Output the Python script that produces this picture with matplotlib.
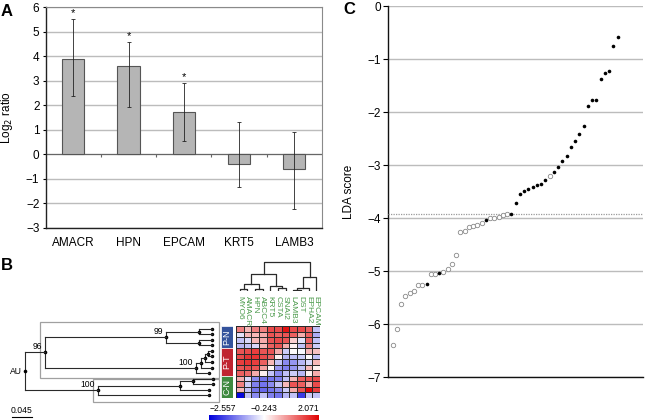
import matplotlib
matplotlib.use("Agg")
import matplotlib.pyplot as plt
import numpy as np
from matplotlib.colors import LinearSegmentedColormap, Normalize
from matplotlib.patches import Rectangle

plt.rcParams['font.family'] = ['Liberation Sans', 'DejaVu Sans']

# ---- panel A data
genes = ["AMACR", "HPN", "EPCAM", "KRT5", "LAMB3"]
log2_ratio = [3.9, 3.62, 1.72, -0.38, -0.6]
err_low = [2.38, 1.93, 0.55, -1.35, -2.25]
err_high = [5.52, 4.6, 2.9, 1.3, 0.92]
significant = [True, True, True, False, False]

# ---- panel B data
col_genes = ["MYO6", "AMACR", "HPN", "ABCC4", "KRT5", "CSTA", "SNAI2",
             "LAMB3", "DST", "EPHA2", "EPCAM"]
groups = ["P-N", "P-T", "C-N"]
group_sizes = [4, 5, 4]
group_colors = ["#34539c", "#c02430", "#3f8a40"]
expr = [
    [0.9, 0.4, 0.9, 0.9, 1.4, 1.4, 1.9, 1.4, 1.4, 1.2, -0.8],
    [-0.5, 0.4, 0.4, 0.5, 1.3, 1.2, 1.3, 1.2, 0.5, 1.2, -1.0],
    [-0.8, -0.6, 0.4, 0.5, 1.3, 1.4, 1.3, 0.2, -0.5, 1.2, -0.8],
    [-0.9, -0.8, -0.6, 0.4, 1.2, 1.3, 0.5, -0.1, -0.8, 0.9, -0.7],
    [1.3, 1.4, 1.5, 1.3, 1.3, 0.5, -0.7, -0.2, -0.3, 0.4, 0.3],
    [1.4, 1.6, 1.6, 1.4, 1.2, -0.1, -0.9, -0.8, -0.7, -0.2, -0.8],
    [1.5, 1.6, 1.5, 1.2, 0.4, -0.8, -1.3, -1.2, -0.9, -0.6, 0.4],
    [1.3, 1.4, 1.3, 0.6, -0.2, -1.2, -1.4, -1.2, -0.8, 0.4, -0.1],
    [1.2, 1.1, 0.5, -0.1, -0.8, -1.3, -0.8, -0.7, -0.9, -0.1, 0.5],
    [0.5, -0.6, -1.3, -1.5, -1.5, -1.4, -0.8, 0.4, 1.2, 1.3, 1.4],
    [0.9, -0.7, -1.4, -1.5, -1.3, -0.8, 0.4, 1.3, 1.2, 0.5, 1.4],
    [0.4, -0.8, -1.5, -1.6, -1.5, -1.3, -0.7, 0.5, 1.3, 2.0, 1.5],
    [-2.5, -0.8, -1.3, -0.8, -1.4, -1.5, -0.9, -0.8, -2.0, -0.7, -0.8],
]
vmin, vmid, vmax = -2.557, -0.243, 2.071

# row tree: (branch length, [children], bootstrap) ; leaves are branch lengths
row_tree = (0.0, [
    (0.0435, [
        (0.2626, [(0.073, [0.028, 0.028], ""), (0.072, [0.029, 0.029], "")], "99"),
        (0.3283, [(0.011, [(0.0087, [(0.0076, [0.0076, 0.0076], ""), 0.0152], ""),
                           0.024], ""), 0.028], "100"),
    ], "96"),
    (0.1593, [(0.1776, [(0.029, [0.043, 0.043], ""), 0.063], ""), 0.2407], "100"),
], "AU")
scale_len = 0.045

# column tree: (height, left, right) ; leaves are column indices
col_tree = (29.3,
            (17.3, (7.3, (2.5, 0, 1), (2.0, 2, 3)), (5.5, 4, (3.0, 5, 6))),
            (14.0, (3.3, (1.5, 7, 8), 9), 10))

# ---- panel C data
lda_score = [-6.39, -6.09, -5.62, -5.46, -5.40, -5.37, -5.26, -5.26, -5.24, -5.06,
             -5.05, -5.03, -5.02, -4.96, -4.86, -4.69, -4.25, -4.24, -4.16, -4.15,
             -4.13, -4.08, -4.03, -4.00, -3.99, -3.97, -3.94, -3.92, -3.91, -3.71,
             -3.54, -3.49, -3.45, -3.40, -3.38, -3.35, -3.28, -3.20, -3.12, -3.03,
             -2.92, -2.82, -2.65, -2.54, -2.41, -2.26, -1.89, -1.77, -1.76, -1.37,
             -1.26, -1.22, -0.74, -0.57]
case_flag = [0, 0, 0, 0, 0, 0, 0, 0, 1, 0,
             0, 1, 0, 0, 0, 0, 0, 0, 0, 0,
             0, 0, 1, 0, 0, 0, 0, 0, 1, 1,
             1, 1, 1, 1, 1, 1, 1, 0, 1, 1,
             1, 1, 1, 1, 1, 1, 1, 1, 1, 1,
             1, 1, 1, 1]
threshold = -3.92

W, H = 652, 420
fig = plt.figure(figsize=(W / 100, H / 100), dpi=100)


def px_axes(x0, y0, x1, y1):
    return fig.add_axes([x0 / W, 1 - y1 / H, (x1 - x0) / W, (y1 - y0) / H])


# ================= A
axA = px_axes(45.7, 7.3, 321.7, 227.7)
xa = np.arange(len(genes))
vals = np.array(log2_ratio)
yerr = [vals - np.array(err_low), np.array(err_high) - vals]
axA.bar(xa, vals, width=0.4, color="#b5b5b5", edgecolor="#555555", lw=0.8, zorder=3)
axA.errorbar(xa, vals, yerr=yerr, fmt="none", ecolor="#222222", elinewidth=0.6,
             capsize=1.3, capthick=0.6, zorder=4)
for i, sig in enumerate(significant):
    if sig:
        axA.annotate("*", (xa[i], err_high[i]), xytext=(0, 0.5), textcoords="offset points",
                     ha="center", va="bottom", fontsize=8)
axA.set_xlim(-0.5, len(genes) - 0.5)
axA.set_ylim(-3, 6)
axA.set_yticks(range(-3, 7))
axA.yaxis.grid(True, color="#bcbcbc", lw=1)
axA.set_axisbelow(True)
axA.axhline(0, color="#666666", lw=0.8, zorder=2)
axA.vlines(xa[:-1] + 0.5, -0.12, 0, color="#666666", lw=0.8, zorder=2)
axA.set_xticks(xa)
axA.set_xticklabels(genes, fontsize=8.5)
axA.tick_params(axis="x", length=0, pad=7)
axA.tick_params(axis="y", length=2.5, width=0.8, labelsize=8.5, pad=2)
for s in ["left", "bottom"]:
    axA.spines[s].set_color("#222222")
    axA.spines[s].set_linewidth(1)
for s in ["top", "right"]:
    axA.spines[s].set_color("#8a8a8a")
    axA.spines[s].set_linewidth(0.8)
axA.set_ylabel("Log$_2$ ratio", fontsize=8.5, labelpad=8)

# ================= B
line_c = "#2a2a2a"
n_rows = len(expr)
n_cols = len(col_genes)

axT = px_axes(0, 326, 236, 398)
axT.set_xlim(-0.054, 0.459)
axT.set_ylim(n_rows, 0)
axT.axis("off")

counter = [0]


def place(node, x_parent):
    if not isinstance(node, tuple):
        x = x_parent + node
        y = counter[0] + 0.5
        counter[0] += 1
        axT.plot(x, y, "o", ms=2.5, color="black", mew=0)
        return x, y, x
    length, children, label = node
    x = x_parent + length
    pts = [place(c, x) for c in children]
    ys = [p[1] for p in pts]
    y = (ys[0] + ys[-1]) / 2
    axT.plot([x, x], [min(ys), max(ys)], color=line_c, lw=0.8)
    for cx, cy, _ in pts:
        axT.plot([x, cx], [cy, cy], color=line_c, lw=0.8)
    axT.plot(x, y, "o", ms=2.6, color="black", mew=0)
    if label:
        axT.annotate(label, (x, y), xytext=(-2, 0.8), textcoords="offset points",
                     ha="right", va="bottom", fontsize=6.2)
    return x, y, max(p[2] for p in pts)


root_len, root_children, root_label = row_tree
child_pts = [place(c, root_len) for c in root_children]
ry = [p[1] for p in child_pts]
axT.plot([root_len, root_len], [min(ry), max(ry)], color=line_c, lw=0.8)
for cx, cy, _ in child_pts:
    axT.plot([root_len, cx], [cy, cy], color=line_c, lw=0.8)
axT.plot(root_len, np.mean(ry), "o", ms=2.6, color="black", mew=0)
axT.annotate(root_label, (root_len, np.mean(ry)), xytext=(-2.5, 0), textcoords="offset points",
             ha="right", va="center", fontsize=6.2)

# grey boxes around the two clades
x_right = max(p[2] for p in child_pts) + 0.013
n_up = sum(group_sizes[:2])
box_specs = [(child_pts[0][0] - 0.0095, -0.8, n_up + 0.4),
             (child_pts[1][0] - 0.011, n_up + 0.55, n_rows + 0.7)]
for bx, top, bot in box_specs:
    axT.add_patch(Rectangle((bx, top), x_right - bx, bot - top, fill=False,
                            edgecolor="#a0a0a0", lw=0.9, clip_on=False))

# scale bar
axT.plot([-0.029, -0.029 + scale_len], [16.4, 16.4], color="black", lw=0.8, clip_on=False)
axT.text(-0.029 + scale_len / 2, 15.3, f"{scale_len:.3f}", ha="center", va="center",
         fontsize=6.2, clip_on=False)

# group labels
axG = px_axes(220.7, 326, 233.3, 398)
axG.set_ylim(n_rows, 0)
axG.set_xlim(0, 1)
axG.axis("off")
starts = np.cumsum([0] + group_sizes[:-1])
axG.barh(starts + np.array(group_sizes) / 2, 1, height=group_sizes, left=0,
         color=group_colors, edgecolor="white", lw=0.5)
for g, st, sz in zip(groups, starts, group_sizes):
    axG.text(0.5, st + sz / 2, g, rotation=90, ha="center", va="center",
             color="white", fontsize=6.5)

# heatmap
cmap = LinearSegmentedColormap.from_list("bwr_img", ["#0000dc", "#ffffff", "#e00000"])
norm = Normalize(vmin=vmin, vmax=vmax)
axH = px_axes(236, 326, 320, 398)
mesh = axH.pcolormesh(np.array(expr), cmap=cmap, norm=norm, edgecolors="#2a2a2a", linewidth=0.45)
axH.set_ylim(n_rows, 0)
axH.set_xlim(0, n_cols)
axH.axis("off")
for i, g in enumerate(col_genes):
    axH.text(i + 0.5, 1.41, g, transform=axH.get_xaxis_transform(), rotation=-90,
             ha="center", va="top", fontsize=6, color="#4b9a4b")

# column dendrogram
axD = px_axes(236, 261, 320, 291)
axD.set_xlim(0, n_cols)
axD.set_ylim(0, 30)
axD.axis("off")


def draw_col(node):
    if isinstance(node, int):
        return node + 0.5, 0.0
    h, left, right = node
    xl, hl = draw_col(left)
    xr, hr = draw_col(right)
    axD.plot([xl, xl, xr, xr], [hl, h, h, hr], color=line_c, lw=0.9)
    return (xl + xr) / 2, h


draw_col(col_tree)

# colour bar
cax = px_axes(209.3, 415, 319.3, 419.5)
cb = fig.colorbar(mesh, cax=cax, orientation="horizontal")
cb.outline.set_visible(False)
cax.set_xticks([])
for v, ha in [(vmin, "left"), (vmid, "center"), (vmax, "right")]:
    cax.annotate(f"{v:.3f}".replace("-", "\u2212"), (v, 1), xycoords=("data", "axes fraction"),
                 xytext=(0, 1.5), textcoords="offset points", ha=ha, va="bottom", fontsize=6.2)

# ================= C
axC = px_axes(388.3, 6.3, 643, 377.3)
xc = np.arange(1, len(lda_score) + 1)
sc = np.array(lda_score)
cf = np.array(case_flag, dtype=bool)
axC.plot(xc[~cf], sc[~cf], "o", ms=3.2, mfc="white", mec="#8a8a8a", mew=0.6, ls="none", zorder=4)
axC.plot(xc[cf], sc[cf], "o", ms=2.6, color="black", mew=0, ls="none", zorder=4)
axC.axhline(threshold, color="#9a9a9a", lw=0.9, ls=(0, (1, 1)), zorder=3)
axC.set_xlim(0, 60)
axC.set_ylim(-7, 0)
axC.set_yticks(range(-7, 1))
axC.yaxis.grid(True, color="#bcbcbc", lw=1)
axC.set_axisbelow(True)
axC.set_xticks([])
axC.tick_params(axis="y", length=3.5, width=0.8, labelsize=8.5, pad=2)
for s in ["top", "right"]:
    axC.spines[s].set_visible(False)
for s in ["left", "bottom"]:
    axC.spines[s].set_color("#111111")
    axC.spines[s].set_linewidth(1)
axC.set_ylabel("LDA score", fontsize=8.5, labelpad=9)

# panel letters
fig.text(7 / W, 1 - 12 / H, "A", fontsize=12, fontweight="bold", ha="center", va="center")
fig.text(7 / W, 1 - 266 / H, "B", fontsize=12, fontweight="bold", ha="center", va="center")
fig.text(349 / W, 1 - 10 / H, "C", fontsize=12, fontweight="bold", ha="center", va="center")

fig.savefig("out.png", dpi=100)
